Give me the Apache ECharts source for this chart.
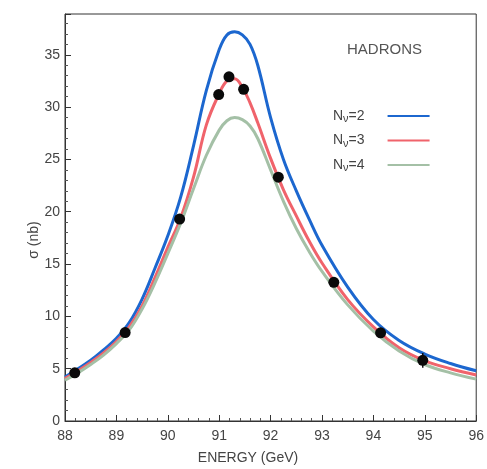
<!DOCTYPE html>
<html><head><meta charset="utf-8">
<script src="https://cdn.jsdelivr.net/npm/echarts@6/dist/echarts.min.js"></script>
<style>html,body{margin:0;padding:0;background:#fff}#c{width:487px;height:469px}</style>
</head><body><div id="c"></div>
<script>
const energyGrid = [88, 88.25, 88.5, 88.75, 89, 89.25, 89.5, 89.75, 90, 90.25, 90.5, 90.75, 91, 91.15, 91.3, 91.45, 91.6, 91.75, 92, 92.25, 92.5, 92.75, 93, 93.5, 94, 94.5, 95, 95.5, 96];
// Cross section (nb) for N_nu = 2, 3, 4
const sigmaNv2 = [4.2, 5.0, 5.8, 6.8, 7.9, 9.4, 11.65, 14.6, 17.7, 21.4, 26.3, 31.6, 35.5, 36.9, 37.2, 36.9, 36.0, 34.0, 29.0, 25.0, 22.0, 19.3, 16.8, 12.8, 9.7, 7.7, 6.4, 5.5, 4.8];
const sigmaNv3 = [4.05, 4.8, 5.6, 6.5, 7.6, 9.0, 11.0, 13.7, 16.6, 19.4, 23.3, 28.3, 31.3, 32.5, 32.7, 31.9, 30.4, 28.5, 25.1, 22.1, 19.6, 17.2, 15.1, 11.6, 9.0, 7.0, 5.75, 5.0, 4.4];
const sigmaNv4 = [3.9, 4.6, 5.4, 6.3, 7.4, 8.7, 10.7, 13.2, 16.0, 18.9, 22.2, 25.4, 27.8, 28.7, 29.0, 28.8, 28.2, 27.0, 24.0, 21.0, 18.4, 16.2, 14.3, 11.1, 8.6, 6.7, 5.4, 4.6, 4.0];
// Measured points
const dataEnergy = [88.19, 89.17, 90.23, 90.99, 91.19, 91.475, 92.15, 93.23, 94.14, 94.96];
const dataSigma = [4.6, 8.45, 19.3, 31.2, 32.9, 31.7, 23.3, 13.25, 8.43, 5.8];
const dataError = [0.2, 0.25, 0.3, 0.35, 0.3, 0.35, 0.3, 0.25, 0.3, 0.7];
// Labels
const seriesNames = ['N\u03bd=2', 'N\u03bd=3', 'N\u03bd=4'];
const xTickLabels = ['88', '89', '90', '91', '92', '93', '94', '95', '96'];
const yTickLabels = ['0', '5', '10', '15', '20', '25', '30', '35'];

const FONT = '"Liberation Sans", Arial, sans-serif';
const TXT = '#444';
const colors = ['#1c67cf', '#f0636b', '#a4c0a6'];

const zip = (xs, ys) => xs.map((x, i) => [x, ys[i]]);

const chart = echarts.init(document.getElementById('c'), null, {renderer: 'canvas'});
chart.setOption({
  animation: false,
  backgroundColor: '#fff',
  grid: {left: 65, right: 7, top: 14, bottom: 48, show: true, borderColor: '#333', borderWidth: 1},
  xAxis: {
    type: 'value', min: 88, max: 96, interval: 1,
    axisLine: {lineStyle: {color: '#333', width: 1}},
    axisTick: {inside: true, length: 6, lineStyle: {color: '#333'}},
    minorTick: {show: true, splitNumber: 5, length: 3, lineStyle: {color: '#555'}},
    splitLine: {show: false},
    axisLabel: {color: TXT, fontFamily: FONT, fontSize: 14, margin: 8,
      formatter: v => xTickLabels[Math.round(v - 88)] || ''}
  },
  yAxis: {
    type: 'value', min: 0, max: 38.9, interval: 5,
    axisLine: {show: true, lineStyle: {color: '#333', width: 1}},
    axisTick: {show: true, inside: true, length: 6, lineStyle: {color: '#333'}},
    minorTick: {show: true, splitNumber: 5, length: 3, lineStyle: {color: '#555'}},
    splitLine: {show: false},
    axisLabel: {color: TXT, fontFamily: FONT, fontSize: 14, margin: 5, showMaxLabel: false,
      formatter: v => { const i = Math.round(v / 5); return (Math.abs(v - i * 5) < 1e-6 && yTickLabels[i]) ? yTickLabels[i] : ''; }}
  },
  legend: {
    orient: 'vertical', left: 333, top: 109, align: 'right',
    itemWidth: 42, itemHeight: 2, itemGap: 9, icon: 'rect',
    data: seriesNames,
    formatter: name => '{n|N}{s|\u03bd}{e|' + name.slice(2) + '}',
    textStyle: {color: TXT, fontFamily: FONT, fontSize: 14,
      rich: {n: {fontSize: 14, fontFamily: FONT, color: TXT},
             e: {fontSize: 14, fontFamily: FONT, color: TXT, padding: [0, 18, 0, 0]},
             s: {fontSize: 11, fontFamily: FONT, color: TXT, padding: [6, 0, 0, 0]}}},
    padding: 0
  },
  graphic: [
    {type: 'text', left: 347, top: 42, style: {text: 'HADRONS', fill: '#555', font: '15px ' + FONT}},
    {type: 'text', x: 248, y: 458, style: {text: 'ENERGY (GeV)', fill: TXT, font: '14px ' + FONT, textAlign: 'center', textVerticalAlign: 'middle'}},
    {type: 'text', x: 34, y: 240, rotation: Math.PI / 2, style: {text: '\u03c3 (nb)', fill: TXT, font: '14px ' + FONT, textAlign: 'center', textVerticalAlign: 'middle'}}
  ],
  series: [
    {name: seriesNames[0], type: 'line', data: zip(energyGrid, sigmaNv2), smooth: 0.4, showSymbol: false, symbol: 'none',
     lineStyle: {color: colors[0], width: 3}, itemStyle: {color: colors[0]}, z: 3},
    {name: seriesNames[1], type: 'line', data: zip(energyGrid, sigmaNv3), smooth: 0.4, showSymbol: false, symbol: 'none',
     lineStyle: {color: colors[1], width: 3}, itemStyle: {color: colors[1]}, z: 3},
    {name: seriesNames[2], type: 'line', data: zip(energyGrid, sigmaNv4), smooth: 0.4, showSymbol: false, symbol: 'none',
     lineStyle: {color: colors[2], width: 3}, itemStyle: {color: colors[2]}, z: 3},
    {type: 'custom', z: 5,
     data: dataEnergy.map((x, i) => [x, dataSigma[i] - dataError[i], dataSigma[i] + dataError[i]]),
     renderItem: (params, api) => {
       const lo = api.coord([api.value(0), api.value(1)]);
       const hi = api.coord([api.value(0), api.value(2)]);
       return {type: 'line', shape: {x1: lo[0], y1: lo[1], x2: hi[0], y2: hi[1]}, style: {stroke: '#111', lineWidth: 1.5}};
     }},
    {type: 'scatter', z: 6, data: zip(dataEnergy, dataSigma), symbolSize: 11,
     itemStyle: {color: '#0a0a0a', opacity: 1}}
  ]
});
</script></body></html>
